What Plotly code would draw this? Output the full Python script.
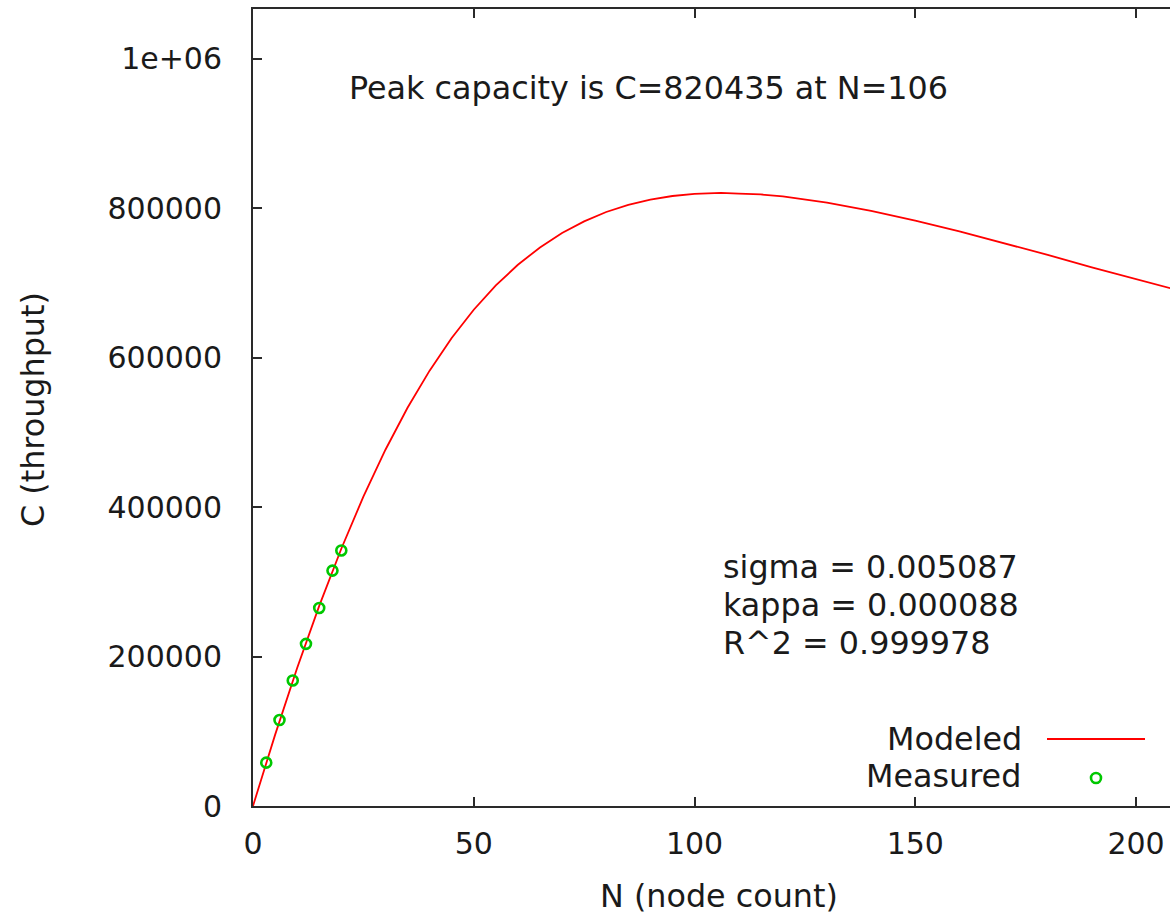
import plotly.graph_objects as go

# Modeled curve
model_n = [0, 5, 10, 15, 20, 25, 30, 35, 40, 45, 50, 55, 60, 65, 70, 75, 80, 85, 90,
           95, 100, 106, 110, 115, 120, 130, 140, 150, 160, 170, 180, 190, 200, 210]
model_c = [0, 95200, 184600, 267800, 344300, 414000, 476800, 532900, 582600, 626200,
           664100, 696600, 724300, 747500, 766800, 782400, 794900, 804500, 811500,
           816300, 819200, 820435, 819500, 818400, 815700, 807500, 796500, 783500,
           769100, 753600, 737500, 720800, 705600, 689500]

# Measured points
meas_n = [3, 6, 9, 12, 15, 18, 20]
meas_c = [58000, 115000, 168000, 217000, 265000, 315000, 342000]

x_ticks = [0, 50, 100, 150, 200]
y_ticks = [0, 200000, 400000, 600000, 800000, 1000000]
y_tick_text = ["0", "200000", "400000", "600000", "800000", "1e+06"]

FONT = "DejaVu Sans"
FS = 31.8
TFS = 30
TXT = "#1a1a1a"
AX = "#2a2a2a"
GREEN = "#00c800"

fig = go.Figure()
fig.add_trace(go.Scatter(x=model_n, y=model_c, mode="lines",
                         line=dict(color="#ff0000", width=1.8), showlegend=False))
fig.add_trace(go.Scatter(x=meas_n, y=meas_c, mode="markers",
                         marker=dict(symbol="circle-open", size=10, color=GREEN,
                                     line=dict(width=2.6, color=GREEN)),
                         showlegend=False))

L, T, B = 253, 9, 108
W, H = 1170, 914
PW = W - L
PH = H - T - B


def px(x):
    return (x - L) / PW


def py(y):
    return (H - B - y) / PH


fig.update_layout(
    width=W, height=H,
    margin=dict(l=L, r=0, t=T, b=B),
    paper_bgcolor="white", plot_bgcolor="white",
    font=dict(family=FONT, size=FS, color=TXT),
    xaxis=dict(range=[0, PW / 4.415], tickvals=x_ticks, ticks="inside", ticklen=9,
               tickwidth=2, tickcolor=AX, showline=True, linecolor=AX, linewidth=2,
               mirror="ticks", showgrid=False, zeroline=False,
               tickfont=dict(family=FONT, size=TFS, color=TXT), ticklabelstandoff=10),
    yaxis=dict(range=[0, 1066566], tickvals=y_ticks, ticktext=y_tick_text,
               ticks="inside", ticklen=9, tickwidth=2, tickcolor=AX, showline=True,
               linecolor=AX, linewidth=2, mirror=False, showgrid=False, zeroline=False,
               tickfont=dict(family=FONT, size=TFS, color=TXT), ticklabelstandoff=23),
    showlegend=False,
)

ann = []
ann.append(dict(text="N (node count)", x=px(719), y=py(895), xref="paper", yref="paper",
                xanchor="center", yanchor="middle", showarrow=False))
ann.append(dict(text="C (throughput)", x=px(32), y=py(410), xref="paper", yref="paper",
                xanchor="center", yanchor="middle", showarrow=False, textangle=-90))
ann.append(dict(text="Peak capacity is C=820435 at N=106", x=px(347), y=py(88),
                xref="paper", yref="paper", xanchor="left", yanchor="middle",
                showarrow=False))
for t, yy in [("sigma = 0.005087", 566), ("kappa = 0.000088", 604), ("R^2 = 0.999978", 642)]:
    ann.append(dict(text=t, x=px(721), y=py(yy), xref="paper", yref="paper",
                    xanchor="left", yanchor="middle", showarrow=False))
ann.append(dict(text="Modeled", x=px(1024), y=py(738), xref="paper", yref="paper",
                xanchor="right", yanchor="middle", showarrow=False))
ann.append(dict(text="Measured", x=px(1023), y=py(775), xref="paper", yref="paper",
                xanchor="right", yanchor="middle", showarrow=False))
fig.update_layout(annotations=ann)

fig.add_shape(type="line", xref="paper", yref="paper", x0=px(1047), x1=px(1145),
              y0=py(739), y1=py(739), line=dict(color="#ff0000", width=1.8))
fig.add_shape(type="circle", xref="paper", yref="paper", xsizemode="pixel",
              ysizemode="pixel", xanchor=px(1096), yanchor=py(778),
              x0=-5, x1=5, y0=-5, y1=5, line=dict(color=GREEN, width=2.6))

fig.write_html("out.html", config={"displayModeBar": False},
               post_script="document.body.style.margin='0';document.body.style.padding='0';")
